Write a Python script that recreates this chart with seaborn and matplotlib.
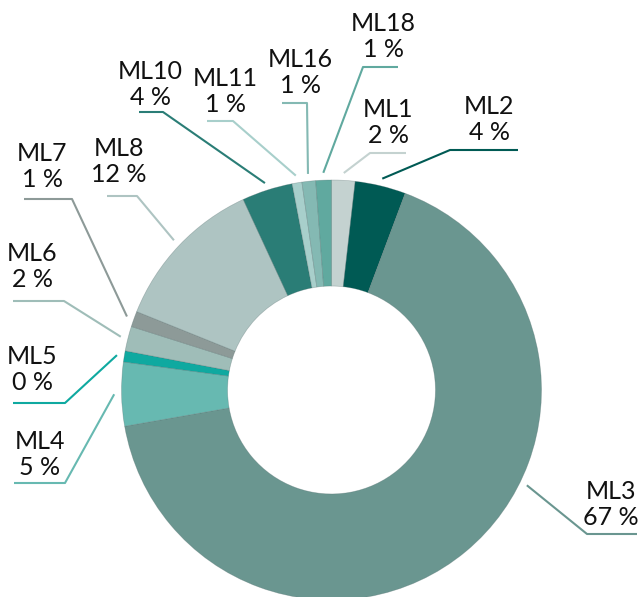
import numpy as np
import matplotlib.pyplot as plt
import seaborn as sns

sns.set_theme(style="white")
plt.rcParams['font.family'] = ['Lato', 'DejaVu Sans']

# slice data, clockwise from 12 o'clock
names = ['ML1', 'ML2', 'ML3', 'ML4', 'ML5', 'ML6', 'ML7', 'ML8', 'ML10', 'ML11', 'ML16', 'ML18']
shares = [1.8, 3.9, 66.5, 4.9, 0.85, 1.9, 1.2, 12.0, 3.9, 0.75, 1.05, 1.2]
pct_text = [2, 4, 67, 5, 0, 2, 1, 12, 4, 1, 1, 1]
colors = ['#c4d2d0', '#005a54', '#6a9690', '#67b9b1', '#0fa9a0', '#9fbdb8',
          '#8d9a98', '#aec4c2', '#2a7d76', '#a8cfcb', '#84b9b3', '#60a99f']

# label layout in pixels: text centre x, baseline of the % line, leader y, elbow x, outer x
layout = {
    'ML1': (388, 143, 153, 370, 406),
    'ML2': (489, 140, 150, 450, 518),
    'ML3': (611, 525, 534, 587, 637),
    'ML4': (40, 475, 483, 65, 14),
    'ML5': (32, 390, 403, 65, 13),
    'ML6': (32, 287, 301, 64, 13),
    'ML7': (42, 187, 199, 72, 24),
    'ML8': (119, 182, 196, 137, 107),
    'ML10': (150, 105, 112, 163, 139),
    'ML11': (225, 112, 121, 233, 207),
    'ML16': (300, 93, 103, 307, 282),
    'ML18': (383, 57, 67, 363, 398),
}
angle_override = {'ML3': -26}

W, H = 643, 597
cx, cy, R = 331.5, 390, 210


def px(x, y):
    return (x - cx) / R, (cy - y) / R


fig = plt.figure(figsize=(W / 100, H / 100), dpi=100)
ax = fig.add_axes([0, 0, 1, 1])
wedges, _ = ax.pie(shares, colors=colors, startangle=90, counterclock=False, radius=1,
                   wedgeprops=dict(width=0.505, edgecolor=(0.3, 0.4, 0.4, 0.35), linewidth=0.5))
ax.set_xlim(px(0, 0)[0], px(W, 0)[0])
ax.set_ylim(px(0, H)[1], px(0, 0)[1])
ax.set_aspect('equal')
ax.axis('off')

for w, name, p, col in zip(wedges, names, pct_text, colors):
    ang = angle_override.get(name, (w.theta1 + w.theta2) / 2)
    ex, ey = 1.035 * np.cos(np.radians(ang)), 1.035 * np.sin(np.radians(ang))
    tx, base, ly, elx, outx = layout[name]
    x1, y1 = px(elx, ly)
    x2, _ = px(outx, ly)
    ax.plot([ex, x1, x2], [ey, y1, y1], color=col, lw=1.5, solid_capstyle='butt')
    ax.text(*px(tx, base - 26), name, ha='center', va='baseline', fontsize=18, color='#111111')
    ax.text(*px(tx, base), f'{p} %', ha='center', va='baseline', fontsize=18, color='#111111')

fig.savefig('out.png', dpi=100)
